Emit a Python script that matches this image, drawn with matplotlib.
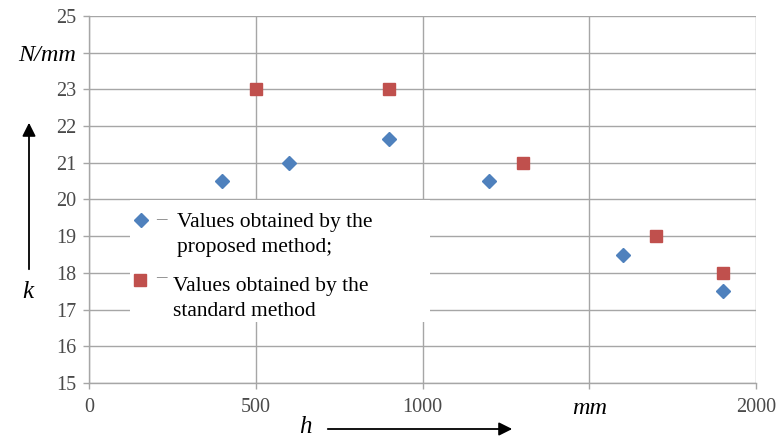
import matplotlib
matplotlib.use("Agg")
import matplotlib.pyplot as plt
from matplotlib.patches import Rectangle, FancyArrowPatch
from matplotlib.lines import Line2D

# Data
h_proposed = [400, 600, 900, 1200, 1600, 1900]
k_proposed = [20.5, 21.0, 21.65, 20.5, 18.5, 17.5]
h_standard = [500, 900, 1300, 1700, 1900]
k_standard = [23.0, 23.0, 21.0, 19.0, 18.0]
x_ticks = [0, 500, 1000, 1500, 2000]
x_tick_labels = ["0", "500", "1000", "mm", "2000"]
y_ticks = [15, 16, 17, 18, 19, 20, 21, 22, 23, 24, 25]
y_tick_labels = ["15", "16", "17", "18", "19", "20", "21", "22", "23", "N/mm", "25"]
legend_labels = ["Values obtained by the\nproposed method;", "Values obtained by the\nstandard method"]

W, H = 779, 440
fig = plt.figure(figsize=(W / 100, H / 100), dpi=100)
fig.patch.set_facecolor("white")

def fx(px):
    return px / W

def fy(py):
    return 1 - py / H

ax = fig.add_axes([fx(89), fy(383), fx(756) - fx(89), fy(16) - fy(383)])
ax.set_xlim(0, 2000)
ax.set_ylim(15, 25)

grid_c = "#a6a6a6"
ax.set_xticks(x_ticks)
ax.set_yticks(y_ticks)
ax.grid(True, color=grid_c, linewidth=1.0, zorder=0)
for s in ["top", "right"]:
    ax.spines[s].set_visible(False)
for s in ["left", "bottom"]:
    ax.spines[s].set_color(grid_c)
    ax.spines[s].set_linewidth(1.0)
ax.tick_params(axis="both", color=grid_c, length=4, width=1.0, labelcolor="#4a4a4a")

ax.set_xticklabels(x_tick_labels, fontfamily="Liberation Serif", fontsize=14.5)
ax.set_yticklabels(y_tick_labels, fontfamily="Liberation Serif", fontsize=14.5)
ax.tick_params(axis="x", pad=7)
ax.tick_params(axis="y", pad=5)
for lbl in ax.get_xticklabels():
    if lbl.get_text() == "mm":
        lbl.set_fontstyle("italic")
        lbl.set_color("black")
        lbl.set_fontsize(17.5)
for lbl in ax.get_yticklabels():
    if lbl.get_text() == "N/mm":
        lbl.set_fontstyle("italic")
        lbl.set_color("black")
        lbl.set_fontsize(17.5)

blue = "#4F81BD"
red = "#C0504D"
ax.plot(h_proposed, k_proposed, linestyle="none", marker="D", markersize=7,
        color=blue, markeredgecolor=blue, zorder=5, clip_on=False)
ax.plot(h_standard, k_standard, linestyle="none", marker="s", markersize=8.5,
        color=red, markeredgecolor=red, zorder=5, clip_on=False)

# Legend box (manual)
fig.patches.append(Rectangle((fx(130), fy(322)), fx(430) - fx(130), fy(200) - fy(322),
                             transform=fig.transFigure, facecolor="white",
                             edgecolor="none", zorder=3))
fig.lines.append(Line2D([fx(141)], [fy(220)], transform=fig.transFigure, marker="D",
                        markersize=7, color=blue, linestyle="none", zorder=4))
fig.lines.append(Line2D([fx(140)], [fy(280)], transform=fig.transFigure, marker="s",
                        markersize=8.5, color=red, linestyle="none", zorder=4))
fig.text(fx(161), fy(220), "–", fontfamily="Liberation Serif", fontsize=15,
         color="#808080", ha="center", va="center", zorder=4)
fig.text(fx(161), fy(278), "–", fontfamily="Liberation Serif", fontsize=15,
         color="#808080", ha="center", va="center", zorder=4)
fig.text(fx(177), fy(235), legend_labels[0], fontfamily="Liberation Serif",
         fontsize=15.5, color="black", ha="left", va="center", linespacing=1.42, zorder=4)
fig.text(fx(173), fy(299), legend_labels[1], fontfamily="Liberation Serif",
         fontsize=15.5, color="black", ha="left", va="center", linespacing=1.42, zorder=4)

# Axis variable labels with arrows
fig.text(fx(28), fy(292), "k", fontfamily="Liberation Serif", fontstyle="italic",
         fontsize=18, ha="center", va="center")
fig.text(fx(305), fy(427), "h", fontfamily="Liberation Serif", fontstyle="italic",
         fontsize=18, ha="center", va="center")
fig.add_artist(FancyArrowPatch(
    (fx(29), fy(272)), (fx(29), fy(120)), transform=fig.transFigure,
    arrowstyle="-|>,head_length=8,head_width=4", color="black", linewidth=1.3,
    mutation_scale=1))
fig.add_artist(FancyArrowPatch(
    (fx(325), fy(429)), (fx(515), fy(429)), transform=fig.transFigure,
    arrowstyle="-|>,head_length=8,head_width=4", color="black", linewidth=1.3,
    mutation_scale=1))

fig.savefig("out.png", dpi=100)
